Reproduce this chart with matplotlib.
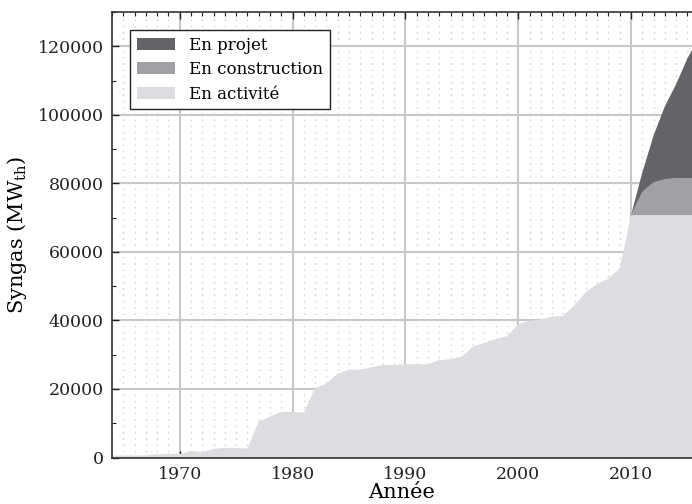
import numpy as np
import matplotlib
matplotlib.use("Agg")
import matplotlib.pyplot as plt
from matplotlib.patches import Patch
from matplotlib.ticker import MultipleLocator

plt.rcParams['font.family'] = 'DejaVu Serif'
plt.rcParams['mathtext.fontset'] = 'dejavuserif'

# donnees (MWth)
annees = list(range(1964, 2017))
activite = [500, 600, 600, 600, 900, 1100, 1000, 1900, 1600, 2500,
            2800, 2800, 2600, 10500, 11900, 13300, 13300, 13100, 20300, 21500,
            24500, 25600, 25600, 26300, 27000, 27000, 27200, 27200, 27200, 28400,
            28700, 29400, 32300, 33500, 34500, 35400, 38900, 39900, 40300, 41100,
            41300, 44500, 48300, 50600, 52200, 55200, 70700, 70700, 70700, 70700,
            70700, 70700, 70700]
construction = [0] * 46 + [0, 6800, 9600, 10500, 10800, 10800, 10800]
projet = [0] * 46 + [0, 5700, 13700, 21300, 27500, 35000, 41000]

couleurs = ['#dcdde0', '#a0a1a5', '#646468']
labels = ['En activité', 'En construction', 'En projet']

fig = plt.figure(figsize=(6.92, 5.04), dpi=100)
ax = fig.add_axes([112 / 692, 46.5 / 504, 1 - 112 / 692, 445.5 / 504])

ax.stackplot(annees, activite, construction, projet, colors=couleurs,
             linewidth=0, zorder=2)

ax.set_xlim(1964, 2015.4)
ax.set_ylim(0, 130000)
ax.xaxis.set_major_locator(MultipleLocator(10))
ax.xaxis.set_minor_locator(MultipleLocator(1))
ax.yaxis.set_major_locator(MultipleLocator(20000))
ax.yaxis.set_minor_locator(MultipleLocator(10000))

ax.set_axisbelow(True)
ax.grid(which='major', color='#c8c8c8', linewidth=1.5, zorder=0)
ax.grid(which='minor', axis='x', color='#d0d0d0', linewidth=1.0,
        linestyle=(0, (1, 3.5)), zorder=0)

ax.tick_params(which='both', direction='in', top=True, right=False,
               labelsize=12.5, colors='#222222', pad=6)
ax.tick_params(which='major', length=5, width=1)
ax.tick_params(which='minor', length=3, width=0.8)
ax.tick_params(axis='x', which='minor', bottom=False)

for s in ['left', 'bottom', 'top']:
    ax.spines[s].set_color('#333333')
    ax.spines[s].set_linewidth(1.2)
    ax.spines[s].set_zorder(5)
ax.spines['right'].set_visible(False)

ax.set_xlabel('Année', fontsize=15, labelpad=0)
ax.set_ylabel(r'Syngas (MW$_{\rm th}$)', fontsize=15, labelpad=6)

handles = [Patch(facecolor=c, edgecolor='none') for c in couleurs]
leg = ax.legend(handles[::-1], labels[::-1], loc='upper left',
                bbox_to_anchor=(18 / 580, 1 - 18 / 445.5), borderaxespad=0,
                fontsize=12, fancybox=False,
                framealpha=1, edgecolor='#222222', handlelength=2.3,
                handleheight=0.75, labelspacing=0.45, borderpad=0.4,
                handletextpad=0.85)
leg.get_frame().set_linewidth(1.0)
leg.set_zorder(6)

fig.savefig('out.png', dpi=100)
